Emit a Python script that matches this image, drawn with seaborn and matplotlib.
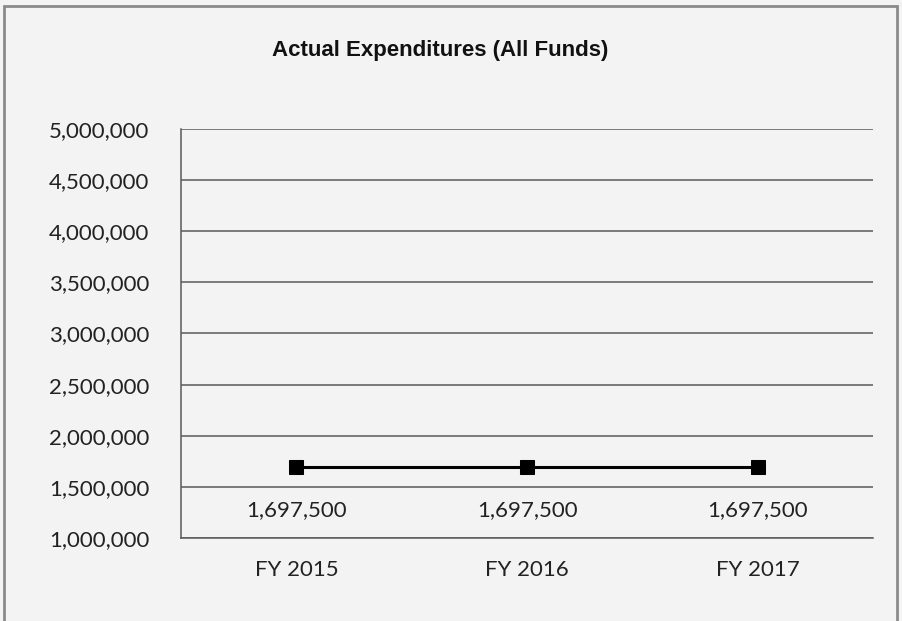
import pandas as pd
import matplotlib.pyplot as plt
import seaborn as sns
from matplotlib.patches import Rectangle
from matplotlib.ticker import FuncFormatter, FixedLocator

years = ['FY 2015', 'FY 2016', 'FY 2017']
expenditures = [1697500, 1697500, 1697500]
y_ticks = list(range(1000000, 5000001, 500000))

sns.set_style('white')
plt.rcParams['font.family'] = ['Lato', 'DejaVu Sans']

df = pd.DataFrame({'Year': years, 'Expenditures': expenditures})

fig = plt.figure(figsize=(9.02, 6.21), dpi=100)
fig.patch.set_facecolor('#f3f3f3')
ax = fig.add_axes([0.2007, 0.1337, 0.7672, 0.6586])
ax.set_facecolor('#f3f3f3')

# outer border of the chart
fig.add_artist(Rectangle((0.004, -0.01), 0.99, 1.0, transform=fig.transFigure,
                         fill=False, edgecolor='#8a8a8a', linewidth=2))

sns.lineplot(data=df, x='Year', y='Expenditures', ax=ax, color='black',
             linewidth=2.2, marker='s', markersize=10, markeredgecolor='black')

ax.set_xlim(-0.5, 2.5)
ax.set_ylim(y_ticks[0], y_ticks[-1])
ax.set_yticks(y_ticks)
ax.yaxis.set_major_formatter(FuncFormatter(lambda v, p: f'{int(v):,}'))
ax.grid(axis='y', color='#5a5a5a', linewidth=1.1)
ax.set_axisbelow(True)

ax.xaxis.set_minor_locator(FixedLocator([-0.5, 0.5, 1.5, 2.5]))
ax.tick_params(axis='x', which='major', length=0, labelsize=16, colors='#222222', pad=16)
ax.tick_params(axis='x', which='minor', length=5, width=1, color='#5a5a5a', direction='out')
ax.tick_params(axis='y', length=5, width=1, color='#5a5a5a', labelsize=16,
               labelcolor='#222222', pad=18)

for s in ['top', 'right']:
    ax.spines[s].set_visible(False)
for s in ['left', 'bottom']:
    ax.spines[s].set_color('#5a5a5a')
    ax.spines[s].set_linewidth(1.1)

ax.set_xlabel('')
ax.set_ylabel('')

for i, v in enumerate(expenditures):
    ax.annotate(f'{v:,}', (i, v), xytext=(0, -43), textcoords='offset pixels',
                ha='center', va='center', fontsize=16, color='#222222')

fig.text(0.488, 0.918, 'Actual Expenditures (All Funds)', ha='center', va='center',
         fontsize=16, fontweight='bold', family=['Liberation Sans Narrow', 'Liberation Sans'],
         color='#111111')

fig.savefig('out.png', dpi=100, facecolor=fig.get_facecolor())
